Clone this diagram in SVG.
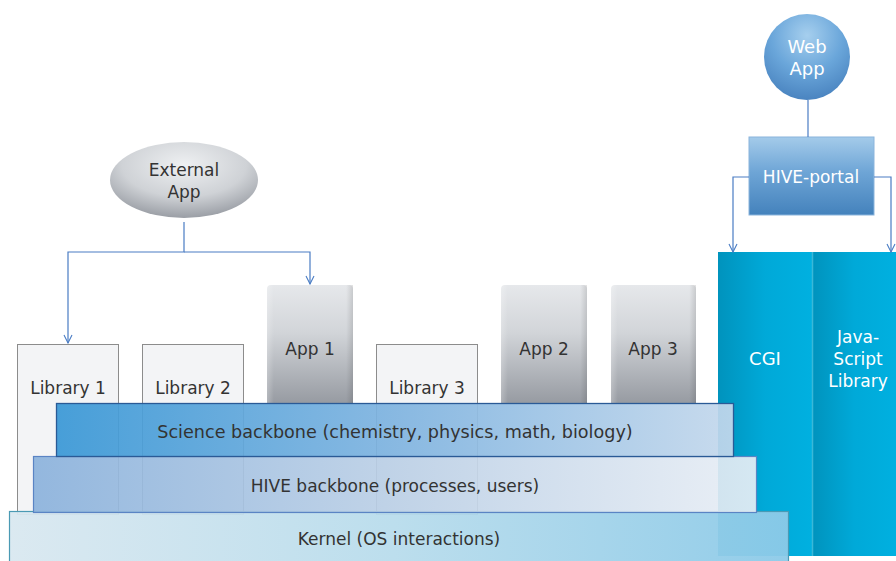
<svg xmlns="http://www.w3.org/2000/svg" width="896" height="561" viewBox="0 0 896 561">
<defs>
<linearGradient id="gApp" x1="0" y1="0" x2="0" y2="1"><stop offset="0" stop-color="#e6e8eb"/><stop offset="0.4" stop-color="#d2d5d9"/><stop offset="1" stop-color="#979ba2"/></linearGradient>
<linearGradient id="gAppSide" x1="0" y1="0" x2="1" y2="0"><stop offset="0" stop-color="#ffffff" stop-opacity="0.25"/><stop offset="0.08" stop-color="#ffffff" stop-opacity="0"/><stop offset="0.92" stop-color="#000000" stop-opacity="0"/><stop offset="1" stop-color="#000000" stop-opacity="0.12"/></linearGradient>
<radialGradient id="gExt" cx="0.5" cy="0.3" r="0.7"><stop offset="0" stop-color="#eef0f2"/><stop offset="0.6" stop-color="#cfd2d6"/><stop offset="1" stop-color="#9a9ea5"/></radialGradient>
<radialGradient id="gWeb" cx="0.5" cy="0.25" r="0.75"><stop offset="0" stop-color="#a6cfee"/><stop offset="0.55" stop-color="#6aa6da"/><stop offset="1" stop-color="#4a84c0"/></radialGradient>
<linearGradient id="gPortal" x1="0" y1="0" x2="0" y2="1"><stop offset="0" stop-color="#a4cbea"/><stop offset="0.45" stop-color="#6ea5d6"/><stop offset="1" stop-color="#4482bc"/></linearGradient>
<linearGradient id="gCol" x1="0" y1="0" x2="1" y2="0"><stop offset="0" stop-color="#0093bd"/><stop offset="0.5" stop-color="#00a9d8"/><stop offset="1" stop-color="#00b0e0"/></linearGradient>
<linearGradient id="gSci" x1="0" y1="0" x2="1" y2="0"><stop offset="0" stop-color="#3a98d6"/><stop offset="0.5" stop-color="#80b4e0"/><stop offset="1" stop-color="#c4d8ec"/></linearGradient>
<linearGradient id="gHive" x1="0" y1="0" x2="1" y2="0"><stop offset="0" stop-color="#8bb2dc"/><stop offset="0.5" stop-color="#bcd0e6"/><stop offset="1" stop-color="#e8eef5"/></linearGradient>
<linearGradient id="gKer" x1="0" y1="0" x2="1" y2="0"><stop offset="0" stop-color="#d9e8f0"/><stop offset="0.5" stop-color="#b8dcec"/><stop offset="1" stop-color="#8ccae8"/></linearGradient>
<marker id="arr" viewBox="0 0 10 10" refX="9" refY="5" markerWidth="10" markerHeight="10" markerUnits="userSpaceOnUse" orient="auto">
<path d="M1,1 L9,5 L1,9" fill="none" stroke="#4a7cc4" stroke-width="1.1"/>
</marker>
<style>
text{font-family:"DejaVu Sans","Liberation Sans",sans-serif;font-size:17px;text-anchor:middle;fill:#333333}
.w{fill:#ffffff}
.big{font-size:18px}
.sci{font-size:17.6px}
.lib{fill:#f3f4f6;stroke:#8c8c8c;stroke-width:1}
.app{fill:url(#gApp)}
.conn{fill:none;stroke:#4a7cc4;stroke-width:1.2}
</style>
</defs>
<rect width="896" height="561" fill="#ffffff"/>

<g id="cgi">
<rect x="718" y="252" width="94" height="304" fill="url(#gCol)"/>
<text class="w big" x="765" y="365">CGI</text>
</g>
<g id="javascript">
<rect x="812" y="252" width="84" height="304" fill="url(#gCol)"/>
<line x1="812.5" y1="252" x2="812.5" y2="556" stroke="#3ab8d8" stroke-width="1.5"/>
<text class="w" x="858" y="343">Java-</text>
<text class="w" x="858" y="365">Script</text>
<text class="w" x="858" y="387">Library</text>
</g>

<g id="library1">
<rect class="lib" x="17.5" y="344.5" width="101" height="170"/>
<text x="68" y="394">Library 1</text>
</g>
<g id="library2">
<rect class="lib" x="142.5" y="344.5" width="101" height="170"/>
<text x="193" y="394">Library 2</text>
</g>
<g id="library3">
<rect class="lib" x="376.5" y="344.5" width="101" height="170"/>
<text x="427" y="394">Library 3</text>
</g>
<g id="app1">
<path class="app" d="M267,403 V289 Q267,285 271,285 H349 Q353,285 353,289 V403 Z"/>
<rect x="267" y="285" width="86" height="118" fill="url(#gAppSide)"/>
<text x="310" y="355">App 1</text>
</g>
<g id="app2">
<path class="app" d="M501,403 V289 Q501,285 505,285 H583 Q587,285 587,289 V403 Z"/>
<rect x="501" y="285" width="86" height="118" fill="url(#gAppSide)"/>
<text x="544" y="355">App 2</text>
</g>
<g id="app3">
<path class="app" d="M611,403 V289 Q611,285 615,285 H692 Q696,285 696,289 V403 Z"/>
<rect x="611" y="285" width="85" height="118" fill="url(#gAppSide)"/>
<text x="653" y="355">App 3</text>
</g>

<g id="kernel">
<rect x="9.5" y="511.5" width="779" height="60" fill="url(#gKer)" fill-opacity="0.95" stroke="#4a9ab4" stroke-width="1.2"/>
<text x="399" y="545">Kernel (OS interactions)</text>
</g>
<g id="hive-backbone">
<rect x="33.5" y="456.5" width="723" height="56" fill="url(#gHive)" fill-opacity="0.92" stroke="#5a84c4" stroke-width="1.2"/>
<text x="395" y="492">HIVE backbone (processes, users)</text>
</g>
<g id="science-backbone">
<rect x="56.5" y="403.5" width="677" height="53" fill="url(#gSci)" fill-opacity="0.93" stroke="#2a5a96" stroke-width="1.3"/>
<text class="sci" x="395" y="438">Science backbone (chemistry, physics, math, biology)</text>
</g>

<g id="external-app">
<ellipse cx="184" cy="180" rx="74" ry="38" fill="url(#gExt)"/>
<text x="184" y="176">External</text>
<text x="184" y="198">App</text>
</g>
<g id="web-app">
<circle cx="807" cy="57" r="43" fill="url(#gWeb)"/>
<text class="w big" x="807" y="53">Web</text>
<text class="w big" x="807" y="75">App</text>
</g>
<g id="hive-portal">
<rect x="749" y="137" width="125" height="78" fill="url(#gPortal)" stroke="#8ab4dc" stroke-width="1"/>
<text class="w" x="811" y="183">HIVE-portal</text>
</g>

<g id="connectors">
<path class="conn" d="M184,222 V252 H68 V343" marker-end="url(#arr)"/>
<path class="conn" d="M184,252 H310 V284" marker-end="url(#arr)"/>
<path class="conn" d="M808,100 V137"/>
<path class="conn" d="M749,177 H733 V252" marker-end="url(#arr)"/>
<path class="conn" d="M874,177 H891 V252" marker-end="url(#arr)"/>
</g>
</svg>
